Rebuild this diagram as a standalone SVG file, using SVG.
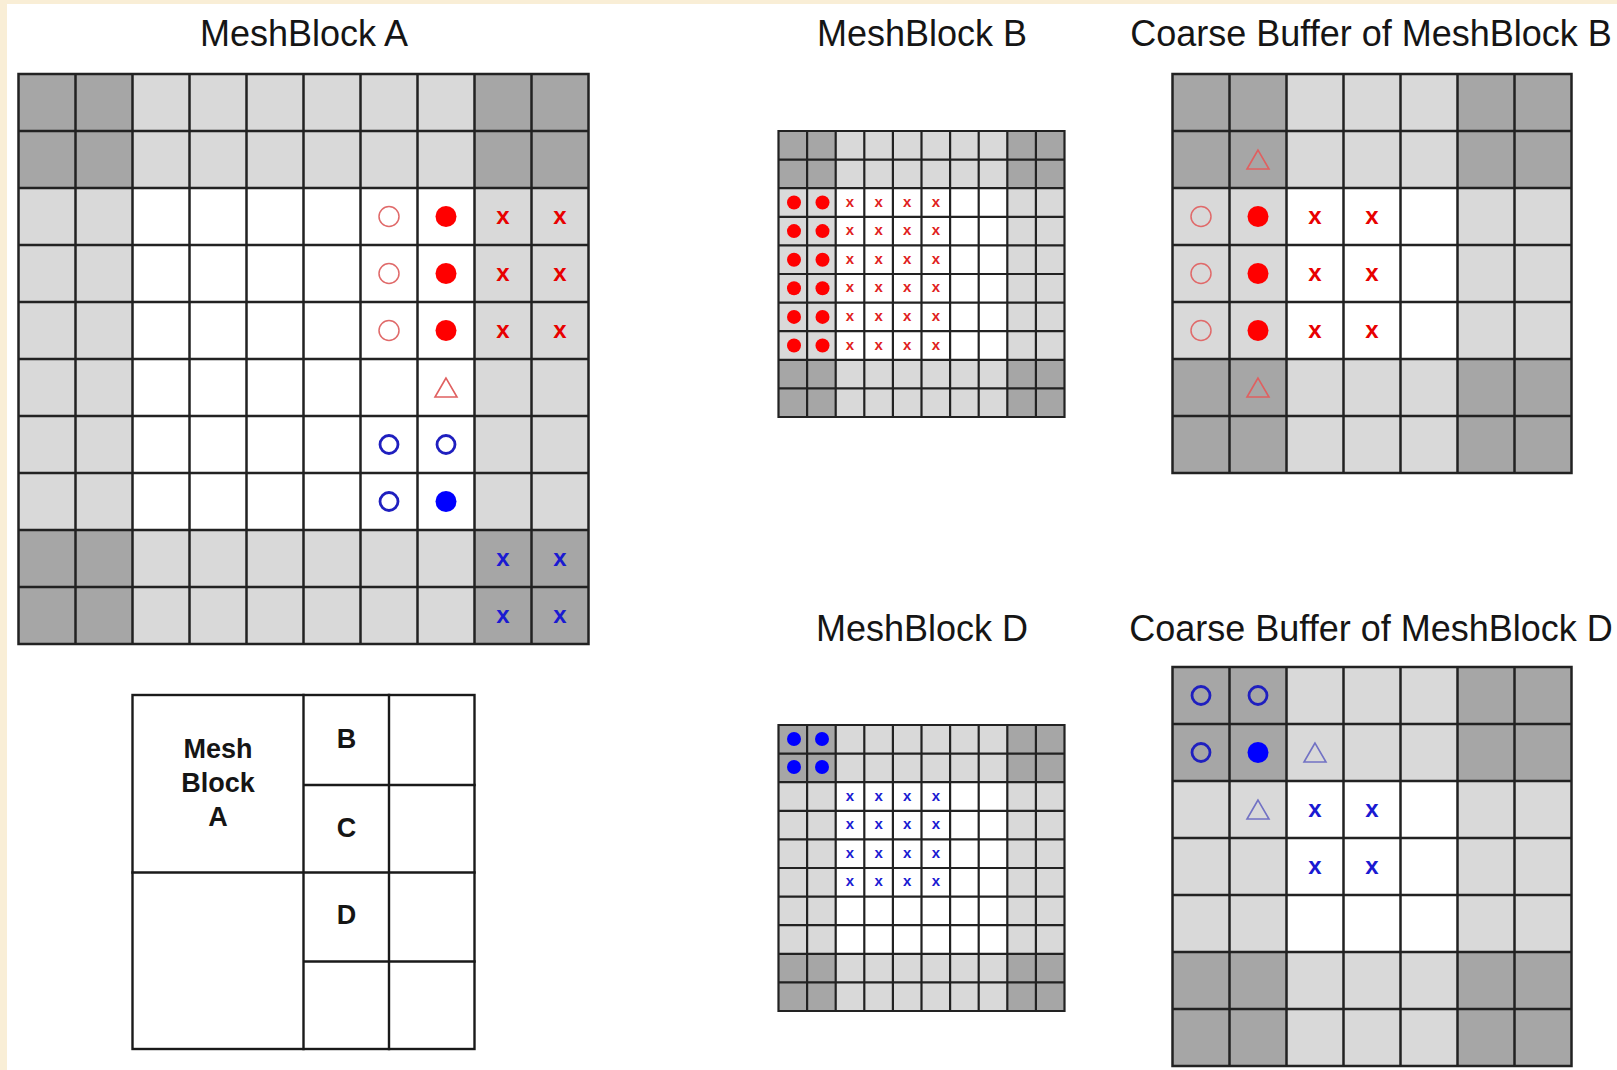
<svg xmlns="http://www.w3.org/2000/svg" xmlns:xlink="http://www.w3.org/1999/xlink" width="1617" height="1070" viewBox="0 0 1617 1070">
<style>
.title{font-family:"Liberation Sans",Arial,sans-serif;font-size:36px;fill:#151515;text-anchor:middle}
.lbl{font-family:"Liberation Sans",Arial,sans-serif;font-size:27px;font-weight:bold;fill:#151515;text-anchor:middle}
.dk{fill:#a6a6a6}
.lt{fill:#d9d9d9}
.wh{fill:#ffffff}
.grid{fill:none;stroke:#222222;stroke-width:2.5;stroke-linecap:square}
.gsm{fill:none;stroke:#222222;stroke-width:2.2;stroke-linecap:square}
.xr{font-family:"Liberation Sans",Arial,sans-serif;font-size:24px;font-weight:bold;fill:#e80000;text-anchor:middle}
.xb{font-family:"Liberation Sans",Arial,sans-serif;font-size:24px;font-weight:bold;fill:#1a1ad2;text-anchor:middle}
.xrs{font-family:"Liberation Sans",Arial,sans-serif;font-size:15px;font-weight:bold;fill:#e02020;text-anchor:middle}
.xbs{font-family:"Liberation Sans",Arial,sans-serif;font-size:15px;font-weight:bold;fill:#1a1ad2;text-anchor:middle}
.box{fill:none;stroke:#1a1a1a;stroke-width:2.4;stroke-linecap:square}
</style>
<defs>
<circle id="ro" r="10" fill="none" stroke="#e06a6a" stroke-width="1.5"/>
<circle id="rf" r="10.5" fill="#ff0000"/>
<polygon id="rt" points="0,-9.5 -11,9.5 11,9.5" fill="none" stroke="#e06060" stroke-width="1.6"/>
<circle id="bo" r="9" fill="none" stroke="#1f1fbf" stroke-width="2.8"/>
<circle id="bf" r="10.5" fill="#0000ff"/>
<polygon id="bt" points="0,-9.5 -11,9.5 11,9.5" fill="none" stroke="#7272c4" stroke-width="1.6"/>
<circle id="rs" r="7" fill="#ff0000"/>
<circle id="bs" r="7" fill="#0000ff"/>
</defs>
<rect x="0" y="0" width="1617" height="1070" fill="#f9eed6"/>
<rect x="7" y="4" width="1610" height="1066" fill="#ffffff"/>

<g id="meshblock-a">
<text class="title" x="304" y="46">MeshBlock A</text>
<rect class="lt" x="18.5" y="74" width="570" height="570"/>
<rect class="wh" x="132.5" y="188" width="342" height="342"/>
<rect class="dk" x="18.5" y="74" width="114" height="114"/>
<rect class="dk" x="474.5" y="74" width="114" height="114"/>
<rect class="dk" x="18.5" y="530" width="114" height="114"/>
<rect class="dk" x="474.5" y="530" width="114" height="114"/>
<path class="grid" d="M18.5 74V644M75.5 74V644M132.5 74V644M189.5 74V644M246.5 74V644M303.5 74V644M360.5 74V644M417.5 74V644M474.5 74V644M531.5 74V644M588.5 74V644M18.5 74H588.5M18.5 131H588.5M18.5 188H588.5M18.5 245H588.5M18.5 302H588.5M18.5 359H588.5M18.5 416H588.5M18.5 473H588.5M18.5 530H588.5M18.5 587H588.5M18.5 644H588.5"/>
<use href="#ro" x="389" y="216.5"/><use href="#ro" x="389" y="273.5"/><use href="#ro" x="389" y="330.5"/>
<use href="#rf" x="446" y="216.5"/><use href="#rf" x="446" y="273.5"/><use href="#rf" x="446" y="330.5"/>
<text class="xr" x="503" y="224">x</text><text class="xr" x="560" y="224">x</text>
<text class="xr" x="503" y="281">x</text><text class="xr" x="560" y="281">x</text>
<text class="xr" x="503" y="338">x</text><text class="xr" x="560" y="338">x</text>
<use href="#rt" x="446" y="387.5"/>
<use href="#bo" x="389" y="444.5"/><use href="#bo" x="446" y="444.5"/><use href="#bo" x="389" y="501.5"/>
<use href="#bf" x="446" y="501.5"/>
<text class="xb" x="503" y="566">x</text><text class="xb" x="560" y="566">x</text>
<text class="xb" x="503" y="623">x</text><text class="xb" x="560" y="623">x</text>
</g>

<g id="meshblock-b">
<text class="title" x="922" y="46">MeshBlock B</text>
<rect class="lt" x="778.5" y="131" width="286" height="286"/>
<rect class="wh" x="835.7" y="188.2" width="171.6" height="171.6"/>
<rect class="dk" x="778.5" y="131" width="57.2" height="57.2"/>
<rect class="dk" x="1007.3" y="131" width="57.2" height="57.2"/>
<rect class="dk" x="778.5" y="359.8" width="57.2" height="57.2"/>
<rect class="dk" x="1007.3" y="359.8" width="57.2" height="57.2"/>
<path class="gsm" d="M778.5 131V417M807.1 131V417M835.7 131V417M864.3 131V417M892.9 131V417M921.5 131V417M950.1 131V417M978.7 131V417M1007.3 131V417M1035.9 131V417M1064.5 131V417M778.5 131H1064.5M778.5 159.6H1064.5M778.5 188.2H1064.5M778.5 216.8H1064.5M778.5 245.4H1064.5M778.5 274H1064.5M778.5 302.6H1064.5M778.5 331.2H1064.5M778.5 359.8H1064.5M778.5 388.4H1064.5M778.5 417H1064.5"/>
<use href="#rs" x="794" y="202.5"/><use href="#rs" x="822.5" y="202.5"/>
<use href="#rs" x="794" y="231.1"/><use href="#rs" x="822.5" y="231.1"/>
<use href="#rs" x="794" y="259.7"/><use href="#rs" x="822.5" y="259.7"/>
<use href="#rs" x="794" y="288.3"/><use href="#rs" x="822.5" y="288.3"/>
<use href="#rs" x="794" y="316.9"/><use href="#rs" x="822.5" y="316.9"/>
<use href="#rs" x="794" y="345.5"/><use href="#rs" x="822.5" y="345.5"/>
<text class="xrs" x="850" y="206.5">x</text><text class="xrs" x="878.6" y="206.5">x</text><text class="xrs" x="907.2" y="206.5">x</text><text class="xrs" x="935.8" y="206.5">x</text>
<text class="xrs" x="850" y="235.1">x</text><text class="xrs" x="878.6" y="235.1">x</text><text class="xrs" x="907.2" y="235.1">x</text><text class="xrs" x="935.8" y="235.1">x</text>
<text class="xrs" x="850" y="263.7">x</text><text class="xrs" x="878.6" y="263.7">x</text><text class="xrs" x="907.2" y="263.7">x</text><text class="xrs" x="935.8" y="263.7">x</text>
<text class="xrs" x="850" y="292.3">x</text><text class="xrs" x="878.6" y="292.3">x</text><text class="xrs" x="907.2" y="292.3">x</text><text class="xrs" x="935.8" y="292.3">x</text>
<text class="xrs" x="850" y="320.9">x</text><text class="xrs" x="878.6" y="320.9">x</text><text class="xrs" x="907.2" y="320.9">x</text><text class="xrs" x="935.8" y="320.9">x</text>
<text class="xrs" x="850" y="349.5">x</text><text class="xrs" x="878.6" y="349.5">x</text><text class="xrs" x="907.2" y="349.5">x</text><text class="xrs" x="935.8" y="349.5">x</text>
</g>

<g id="coarse-buffer-b">
<text class="title" x="1371" y="46">Coarse Buffer of MeshBlock B</text>
<rect class="lt" x="1172.5" y="74" width="399" height="399"/>
<rect class="wh" x="1286.5" y="188" width="171" height="171"/>
<rect class="dk" x="1172.5" y="74" width="114" height="114"/>
<rect class="dk" x="1457.5" y="74" width="114" height="114"/>
<rect class="dk" x="1172.5" y="359" width="114" height="114"/>
<rect class="dk" x="1457.5" y="359" width="114" height="114"/>
<path class="grid" d="M1172.5 74V473M1229.5 74V473M1286.5 74V473M1343.5 74V473M1400.5 74V473M1457.5 74V473M1514.5 74V473M1571.5 74V473M1172.5 74H1571.5M1172.5 131H1571.5M1172.5 188H1571.5M1172.5 245H1571.5M1172.5 302H1571.5M1172.5 359H1571.5M1172.5 416H1571.5M1172.5 473H1571.5"/>
<use href="#rt" x="1258" y="159.5"/>
<use href="#ro" x="1201" y="216.5"/><use href="#ro" x="1201" y="273.5"/><use href="#ro" x="1201" y="330.5"/>
<use href="#rf" x="1258" y="216.5"/><use href="#rf" x="1258" y="273.5"/><use href="#rf" x="1258" y="330.5"/>
<text class="xr" x="1315" y="224">x</text><text class="xr" x="1372" y="224">x</text>
<text class="xr" x="1315" y="281">x</text><text class="xr" x="1372" y="281">x</text>
<text class="xr" x="1315" y="338">x</text><text class="xr" x="1372" y="338">x</text>
<use href="#rt" x="1258" y="387.5"/>
</g>

<g id="meshblock-d">
<text class="title" x="922" y="641">MeshBlock D</text>
<rect class="lt" x="778.5" y="725" width="286" height="286"/>
<rect class="wh" x="835.7" y="782.2" width="171.6" height="171.6"/>
<rect class="dk" x="778.5" y="725" width="57.2" height="57.2"/>
<rect class="dk" x="1007.3" y="725" width="57.2" height="57.2"/>
<rect class="dk" x="778.5" y="953.8" width="57.2" height="57.2"/>
<rect class="dk" x="1007.3" y="953.8" width="57.2" height="57.2"/>
<path class="gsm" d="M778.5 725V1011M807.1 725V1011M835.7 725V1011M864.3 725V1011M892.9 725V1011M921.5 725V1011M950.1 725V1011M978.7 725V1011M1007.3 725V1011M1035.9 725V1011M1064.5 725V1011M778.5 725H1064.5M778.5 753.6H1064.5M778.5 782.2H1064.5M778.5 810.8H1064.5M778.5 839.4H1064.5M778.5 868H1064.5M778.5 896.6H1064.5M778.5 925.2H1064.5M778.5 953.8H1064.5M778.5 982.4H1064.5M778.5 1011H1064.5"/>
<use href="#bs" x="794" y="739"/><use href="#bs" x="822" y="739"/>
<use href="#bs" x="794" y="767"/><use href="#bs" x="822" y="767"/>
<text class="xbs" x="850" y="800.5">x</text><text class="xbs" x="878.6" y="800.5">x</text><text class="xbs" x="907.2" y="800.5">x</text><text class="xbs" x="935.8" y="800.5">x</text>
<text class="xbs" x="850" y="829.1">x</text><text class="xbs" x="878.6" y="829.1">x</text><text class="xbs" x="907.2" y="829.1">x</text><text class="xbs" x="935.8" y="829.1">x</text>
<text class="xbs" x="850" y="857.7">x</text><text class="xbs" x="878.6" y="857.7">x</text><text class="xbs" x="907.2" y="857.7">x</text><text class="xbs" x="935.8" y="857.7">x</text>
<text class="xbs" x="850" y="886.3">x</text><text class="xbs" x="878.6" y="886.3">x</text><text class="xbs" x="907.2" y="886.3">x</text><text class="xbs" x="935.8" y="886.3">x</text>
</g>

<g id="coarse-buffer-d">
<text class="title" x="1371" y="641">Coarse Buffer of MeshBlock D</text>
<rect class="lt" x="1172.5" y="667" width="399" height="399"/>
<rect class="wh" x="1286.5" y="781" width="171" height="171"/>
<rect class="dk" x="1172.5" y="667" width="114" height="114"/>
<rect class="dk" x="1457.5" y="667" width="114" height="114"/>
<rect class="dk" x="1172.5" y="952" width="114" height="114"/>
<rect class="dk" x="1457.5" y="952" width="114" height="114"/>
<path class="grid" d="M1172.5 667V1066M1229.5 667V1066M1286.5 667V1066M1343.5 667V1066M1400.5 667V1066M1457.5 667V1066M1514.5 667V1066M1571.5 667V1066M1172.5 667H1571.5M1172.5 724H1571.5M1172.5 781H1571.5M1172.5 838H1571.5M1172.5 895H1571.5M1172.5 952H1571.5M1172.5 1009H1571.5M1172.5 1066H1571.5"/>
<use href="#bo" x="1201" y="695.5"/><use href="#bo" x="1258" y="695.5"/>
<use href="#bo" x="1201" y="752.5"/><use href="#bf" x="1258" y="752.5"/>
<use href="#bt" x="1315" y="752.5"/>
<use href="#bt" x="1258" y="809.5"/>
<text class="xb" x="1315" y="817">x</text><text class="xb" x="1372" y="817">x</text>
<text class="xb" x="1315" y="874">x</text><text class="xb" x="1372" y="874">x</text>
</g>

<g id="block-layout">
<rect class="box" x="132.5" y="695" width="342" height="354"/>
<path class="box" d="M303.5 695V1049M389 695V1049M132.5 872.5H474.5M303.5 785H474.5M303.5 961.5H474.5"/>
<text class="lbl" x="218" y="758">Mesh</text>
<text class="lbl" x="218" y="792">Block</text>
<text class="lbl" x="218" y="826">A</text>
<text class="lbl" x="346.5" y="748">B</text>
<text class="lbl" x="346.5" y="837">C</text>
<text class="lbl" x="346.5" y="924">D</text>
</g>
</svg>
